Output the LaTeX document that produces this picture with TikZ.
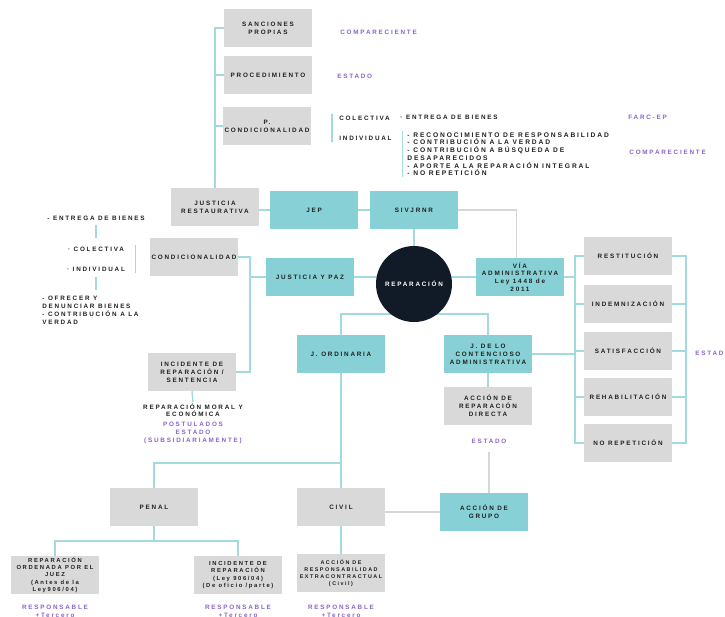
\documentclass[tikz,border=0pt]{standalone}
\usepackage{fontspec}
\setmainfont{Liberation Sans}
\newfontfamily\spacedfont[LetterSpace=28]{Liberation Sans}
\usetikzlibrary{backgrounds}

\definecolor{boxgray}{HTML}{D9D9D9}
\definecolor{boxteal}{HTML}{86D0D6}
\definecolor{lineteal}{HTML}{A2DADE}
\definecolor{linegray}{HTML}{D5D8DA}
\definecolor{navy}{HTML}{111B27}
\definecolor{notepurple}{HTML}{8A63C8}
\definecolor{ink}{HTML}{202020}

\newcommand{\boxfont}{\spacedfont\bfseries\fontsize{5.4}{6.7}\selectfont}
\newcommand{\listfont}{\spacedfont\bfseries\fontsize{5.7}{6.6}\selectfont}
\newcommand{\smallboxfont}{\spacedfont\bfseries\fontsize{5}{6.1}\selectfont}
\newcommand{\tinyboxfont}{\spacedfont\bfseries\fontsize{4.6}{6.1}\selectfont}

\begin{document}
\begin{tikzpicture}[x=0.03cm,y=-0.03cm,
    gbox/.style={fill=boxgray,minimum width=2.64cm,minimum height=1.14cm,inner sep=1pt,align=center,font=\boxfont,text=ink},
    tbox/.style={gbox,fill=boxteal},
    link/.style={draw=lineteal,line width=1.2pt},
    glink/.style={draw=linegray,line width=1.2pt},
    note/.style={font=\boxfont,text=ink,inner sep=1pt},
    pnote/.style={note,text=notepurple,align=center}]
  \useasboundingbox (0,0) rectangle (725,617);

  % top column
  \node[gbox] (sanc) at (268,28) {SANCIONES\\PROPIAS};
  \node[gbox] (proc) at (268,75) {PROCEDIMIENTO};
  \node[gbox] (pcond) at (267,126) {P.\\CONDICIONALIDAD};
  \node[gbox] (jr) at (215,207) {JUSTICIA\\RESTAURATIVA};
  \node[tbox] (jep) at (314,210) {JEP};
  \node[tbox] (siv) at (414,210) {SIVJRNR};

  \node[pnote,anchor=west] (comp1) at (339,32) {COMPARECIENTE};
  \node[pnote,anchor=west] (est1) at (336,76) {ESTADO};
  \node[note,anchor=west] (colp) at (338,118) {COLECTIVA};
  \node[note,anchor=west] (indp) at (338,138) {INDIVIDUAL};
  \node[note,anchor=west] (entp) at (399,117) {· ENTREGA DE BIENES};
  \node[note,font=\listfont,anchor=north west,align=left] (listp) at (406,131) {- RECONOCIMIENTO DE RESPONSABILIDAD\\- CONTRIBUCIÓN A LA VERDAD\\- CONTRIBUCIÓN A BÚSQUEDA DE\\DESAPARECIDOS\\- APORTE A LA REPARACIÓN INTEGRAL\\- NO REPETICIÓN};
  \node[pnote,anchor=west] (farc) at (627,117) {FARC-EP};
  \node[pnote,anchor=west] (comp2) at (628,152) {COMPARECIENTE};

  % centre
  \node[circle,fill=navy,minimum size=2.28cm,font=\boxfont,text=white] (rep) at (414,284) {REPARACIÓN};
  \node[tbox] (jyp) at (310,277) {JUSTICIA Y PAZ};
  \node[tbox] (via) at (520,277) {VÍA\\ADMINISTRATIVA\\Ley 1448 de\\2011};
  \node[tbox] (ord) at (341,354) {J. ORDINARIA};
  \node[tbox] (cont) at (488,354) {J. DE LO\\CONTENCIOSO\\ADMINISTRATIVA};
  \node[gbox] (ard) at (488,406) {ACCIÓN DE\\REPARACIÓN\\DIRECTA};
  \node[pnote] (est2) at (489,441) {ESTADO};
  \node[tbox] (grupo) at (484,512) {ACCIÓN DE\\GRUPO};

  % right column
  \node[gbox] (rest) at (628,256) {RESTITUCIÓN};
  \node[gbox] (indem) at (628,304) {INDEMNIZACIÓN};
  \node[gbox] (satis) at (628,351) {SATISFACCIÓN};
  \node[gbox] (rehab) at (628,397) {REHABILITACIÓN};
  \node[gbox] (norep) at (628,443) {NO REPETICIÓN};
  \node[pnote,anchor=west] (est3) at (694,353) {ESTADO};

  % left side
  \node[gbox] (cond) at (194,257) {CONDICIONALIDAD};
  \node[gbox] (incs) at (192,372) {INCIDENTE DE\\REPARACIÓN /\\SENTENCIA};
  \node[note] (entl) at (96,218) {- ENTREGA DE BIENES};
  \node[note] (coll) at (96,249) {· COLECTIVA};
  \node[note] (indl) at (96,269) {· INDIVIDUAL};
  \node[note,anchor=north west,align=left] (listl) at (41,295) {- OFRECER Y\\DENUNCIAR BIENES\\- CONTRIBUCIÓN A LA\\VERDAD};
  \node[note,anchor=north,align=center] (moral) at (193,402) {REPARACIÓN MORAL Y\\ECONÓMICA};
  \node[pnote,anchor=north] (post) at (193,421) {POSTULADOS\\ESTADO\\(SUBSIDIARIAMENTE)};

  % bottom
  \node[gbox] (penal) at (154,507) {PENAL};
  \node[gbox] (civ) at (341,507) {CIVIL};
  \node[gbox,font=\smallboxfont] (juez) at (55,575) {REPARACIÓN\\ORDENADA POR EL\\JUEZ\\(Antes de la\\Ley906/04)};
  \node[gbox,font=\smallboxfont] (incid) at (238,575) {INCIDENTE DE\\REPARACIÓN\\(Ley 906/04)\\(De oficio /parte)};
  \node[gbox,font=\tinyboxfont] (resp) at (341,573) {ACCIÓN DE\\RESPONSABILIDAD\\EXTRACONTRACTUAL\\(Civil)};
  \node[pnote,anchor=north] (r1) at (55,604) {RESPONSABLE\\+Tercero};
  \node[pnote,anchor=north] (r2) at (238,604) {RESPONSABLE\\+Tercero};
  \node[pnote,anchor=north] (r3) at (341,604) {RESPONSABLE\\+Tercero};

  \begin{scope}[on background layer]
    \draw[link] (jr.north) -- (jr.north |- sanc.west) -- (sanc.west);
    \draw[link] (proc.west -| jr.north) -- (proc.west);
    \draw[link] (pcond.west -| jr.north) -- (pcond.west);
    \draw[link] ([xshift=-5pt]colp.north west) -- ([xshift=-5pt]indp.south west);
    \draw[link] ([xshift=-3pt]listp.north west) -- ([xshift=-3pt]listp.south west);
    \draw[link] (jep.west -| jr.east) -- (jep.west);
    \draw[link] (jep.east) -- (siv.west);
    \draw[glink] (siv.east) -| ([xshift=-3pt]via.north);
    \draw[link] (siv.south) -- (rep.center);
    \draw[link] (jyp.east) -- (jyp.east -| rep.center);
    \draw[link] (via.west) -- (via.west -| rep.center);
    \coordinate (repsplit) at (414,314);
    \draw[link] (ord.north) |- (repsplit) -| (cont.north);
    \draw[link] (cont.south) -- (ard.north);
    \draw[glink] ([yshift=-6pt]est2.south) -- (est2.south |- grupo.north);
    \draw[glink] (civ.east |- grupo.west) -- (grupo.west);
    % right brackets
    \coordinate (rbar) at (575,350);
    \draw[link] (rest.west) -| (rbar) |- (norep.west);
    \draw[link] (indem.west -| rbar) -- (indem.west);
    \draw[link] (satis.west -| rbar) -- (satis.west);
    \draw[link] (rehab.west -| rbar) -- (rehab.west);
    \draw[link] (via.east) -- (via.east -| rbar);
    \draw[link] (cont.east) -- (cont.east -| rbar);
    \coordinate (rbartwo) at (686,350);
    \draw[link] (rest.east) -| (rbartwo) |- (norep.east);
    \draw[link] (indem.east) -- (indem.east -| rbartwo);
    \draw[link] (satis.east) -- (satis.east -| rbartwo);
    \draw[link] (rehab.east) -- (rehab.east -| rbartwo);
    % left bracket
    \coordinate (lbar) at (250,277);
    \draw[link] (cond.east) -| (lbar) |- (incs.east);
    \draw[link] (jyp.west) -- (lbar);
    \draw[link] (incs.south) -- (moral.north);
    \draw[link,shorten <=3pt,shorten >=6pt] (entl.south) -- (coll.north);
    \draw[link,shorten <=4pt,shorten >=4pt] (indl.south) -- (indl.south |- listl.north);
    \draw[link] ([xshift=8pt]indl.east |- coll.north) -- ([xshift=8pt]indl.south east);
    % bottom tree
    \draw[link] (ord.south) -- (civ.north);
    \coordinate (ordsplit) at (341,463);
    \draw[link] (ordsplit) -| (penal.north);
    \coordinate (pensplit) at (154,541);
    \draw[link] (penal.south) -- (pensplit);
    \draw[link] (juez.north) |- (pensplit) -| (incid.north);
    \draw[link] (civ.south) -- (resp.north);
  \end{scope}
\end{tikzpicture}
\end{document}
